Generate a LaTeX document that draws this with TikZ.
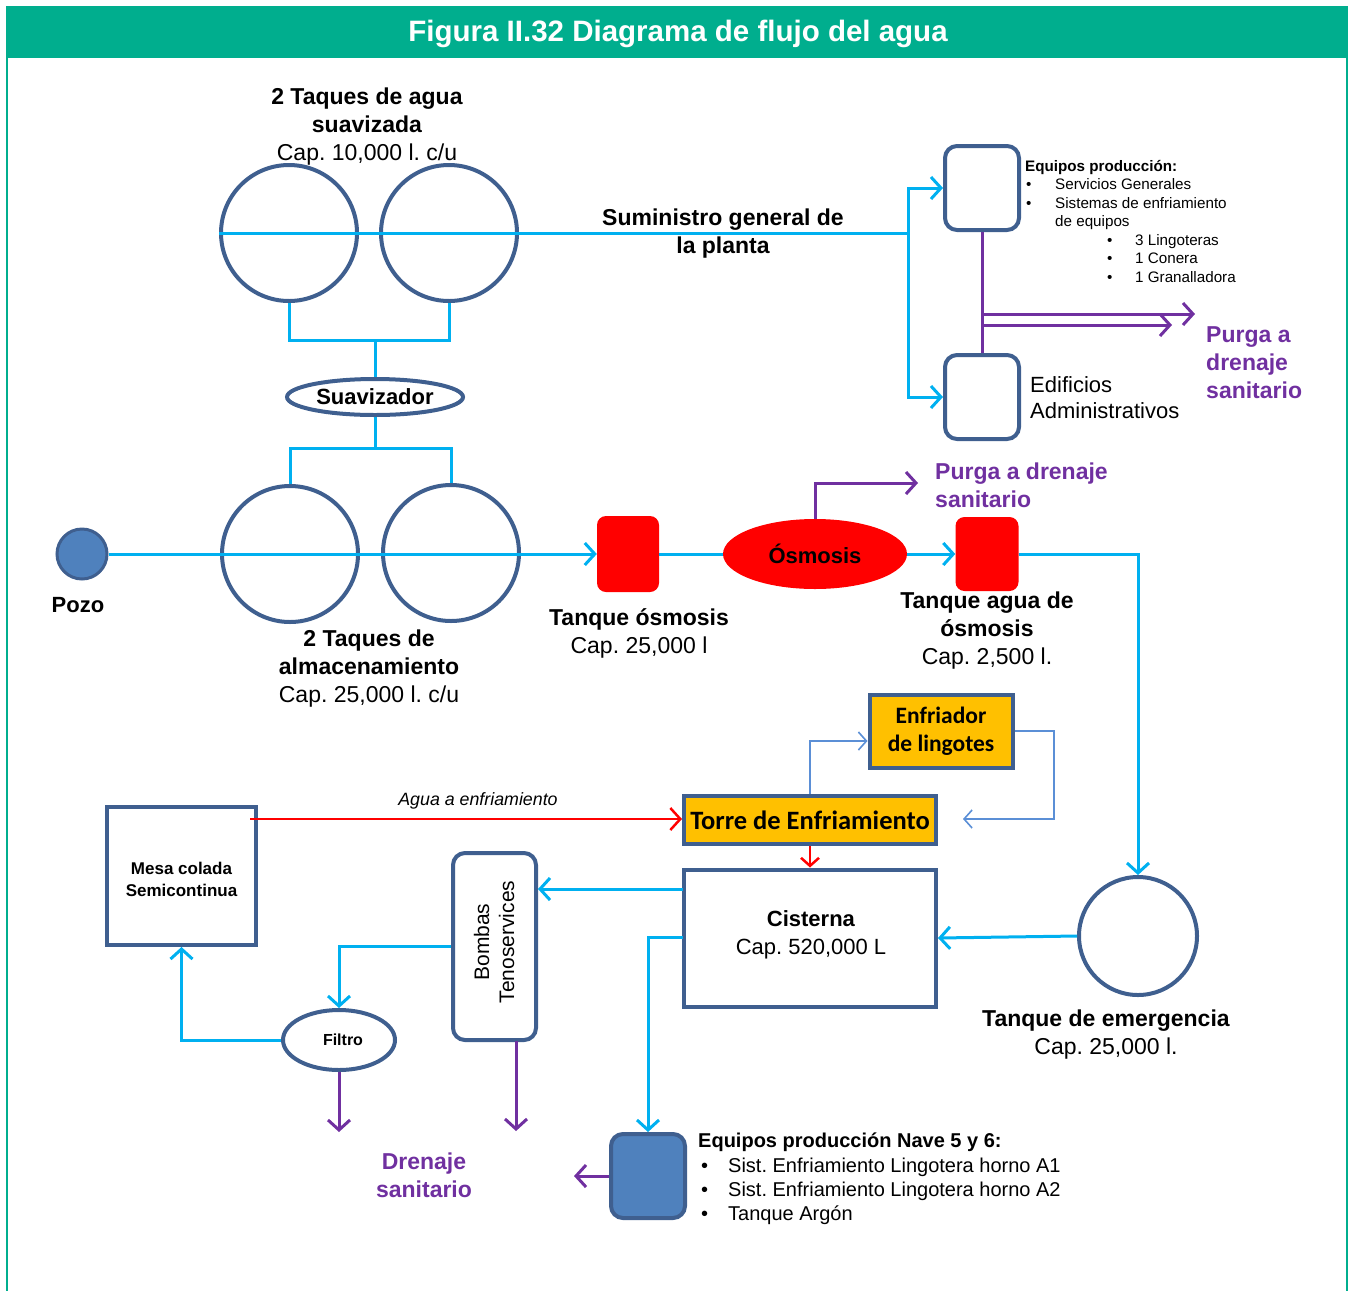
\documentclass[tikz,border=0pt]{standalone}
\usepackage{fontspec}
\setmainfont{Liberation Sans}
\newfontfamily\calfont{Carlito}
\usetikzlibrary{arrows.meta,shapes.geometric,calc}
\definecolor{hdr}{HTML}{00AE8E}
\definecolor{cyanp}{HTML}{00B0F0}
\definecolor{dblue}{HTML}{3F5F8F}
\definecolor{fblue}{HTML}{4F81BD}
\definecolor{purp}{HTML}{7030A0}
\definecolor{orng}{HTML}{FFC000}
\definecolor{steel}{HTML}{5B8FD6}
\begin{document}
\frenchspacing
\begin{tikzpicture}[x=1pt,y=-1pt,
  pipe/.style={draw=cyanp, line width=3pt},
  purl/.style={draw=purp, line width=3pt},
  redl/.style={draw=red, line width=2.5pt},
  thinl/.style={draw=steel, line width=1.6pt},
  arr/.style={-{Straight Barb[length=10pt,width=22pt]}},
  arrs/.style={-{Straight Barb[length=8pt,width=18pt]}},
  tank/.style={circle, draw=dblue, line width=4pt, minimum size=136pt, inner sep=0pt},
  rbox/.style={draw=dblue, line width=4pt, rounded corners=12pt, fill=white, inner sep=0pt},
  sbox/.style={draw=dblue, line width=4pt, fill=white, inner sep=0pt},
  obox/.style={draw=dblue, line width=4pt, fill=orng, inner sep=0pt, align=center},
  redbox/.style={fill=red, rounded corners=9pt, inner sep=0pt},
  big/.style={font=\fontsize{23}{28}\selectfont, align=center, inner sep=0pt},
  bigb/.style={font=\fontsize{23}{28}\selectfont\bfseries, align=center, inner sep=0pt},
  purpt/.style={font=\fontsize{23}{28}\selectfont\bfseries, text=purp, align=left, inner sep=0pt}
]
\useasboundingbox (0,0) rectangle (1349,1291);
% frame
\node[fill=hdr, minimum width=1342pt, minimum height=52pt, anchor=north west, inner sep=0pt] (hdrbox) at (6,6) {};
\node[text=white, font=\fontsize{29.5}{32}\selectfont\bfseries, inner sep=0pt] (title) at (678,34) {Figura II.32 Diagrama de flujo del agua};
\draw[draw=hdr, line width=1.5pt] (7,58) -- (7,1291) (1347,58) -- (1347,1291);

% tanks top
\node[tank] (s1) at (289,233) {};
\node[tank] (s2) at (449,233) {};
\node[draw=dblue, line width=4pt, ellipse, minimum width=176pt, minimum height=36pt, inner sep=0pt, font=\fontsize{22}{26}\selectfont\bfseries] (suav) at (375,397) {Suavizador};
\node[tank] (a1) at (290,554) {};
\node[tank] (a2) at (451,553) {};
\node[circle, fill=fblue, draw=dblue, line width=3pt, minimum size=50pt, inner sep=0pt] (pozo) at (82,554) {};
\node[redbox, minimum width=62pt, minimum height=76pt] (tos) at (628,554) {};
\node[ellipse, fill=red, minimum width=184pt, minimum height=70pt, inner sep=0pt, font=\fontsize{22}{26}\selectfont\bfseries] (osm) at (815,554) {Ósmosis};
\node[redbox, minimum width=63pt, minimum height=74pt] (tao) at (987,554) {};
\node[rbox, minimum width=74pt, minimum height=84pt] (eq1) at (982,188) {};
\node[rbox, minimum width=74pt, minimum height=84pt] (edif) at (982,397) {};

% lower nodes
\node[obox, minimum width=143pt, minimum height=73pt, font=\calfont\fontsize{23.5}{28}\selectfont\bfseries] (enf) at (941,731) {Enfriador\\de lingotes};
\node[obox, minimum width=252pt, minimum height=48pt, font=\calfont\fontsize{26.5}{28}\selectfont\bfseries] (torre) at (810,820) {Torre de Enfriamiento};
\node[sbox, minimum width=252pt, minimum height=137pt] (cist) at (810,938) {};
\node[font=\fontsize{22}{28}\selectfont, align=center, inner sep=0pt] (cistt) at (811,935) {\textbf{Cisterna}\\Cap. 520,000 L};
\node[circle, draw=dblue, line width=4pt, minimum size=118pt, inner sep=0pt] (emer) at (1138,936) {};
\node[sbox, minimum width=149pt, minimum height=138pt] (mesa) at (181.5,876) {};
\node[font=\fontsize{17}{22}\selectfont\bfseries, align=center, inner sep=0pt] (mesat) at (181.5,879) {Mesa colada\\Semicontinua};
\node[rbox, minimum width=83pt, minimum height=187pt] (bomb) at (494.5,946.5) {};
\node[rotate=90, font=\fontsize{21}{25}\selectfont, align=center, inner sep=0pt] (bombt) at (494,942) {Bombas\\Tenoservices};
\node[ellipse, draw=dblue, line width=4pt, minimum width=112pt, minimum height=60pt, inner sep=0pt, font=\fontsize{16}{20}\selectfont\bfseries] (filt) at (339,1040) {\hspace*{8pt}Filtro};
\node[fill=fblue, draw=dblue, line width=4pt, rounded corners=12pt, minimum width=74pt, minimum height=84pt, inner sep=0pt] (neq) at (648,1176) {};

% top connectors
\coordinate (j1) at (908,233);
\draw[pipe] (s1.west) -- (j1);
\draw[pipe,arr] (j1) |- (eq1.west);
\draw[pipe,arr] (j1) |- (edif.west);
\coordinate (c1) at (375,340);
\draw[pipe] (s1.south) |- (c1) -| (s2.south);
\draw[pipe] (c1) -- (suav.north);
\coordinate (c2) at (375,448);
\draw[pipe] (suav.south) -- (c2);
\draw[pipe] (a1.north) |- (c2) -| (a2.north);
\draw[pipe,arr] (pozo.east) -- (tos.west);
\draw[pipe] (tos.east) -- (osm.west);
\draw[pipe,arr] (osm.east) -- (tao.west);
\draw[pipe,arr] (tao.east) -| (emer.north);
\coordinate (p1) at (918,483);
\draw[purl,arr] (osm.north) |- (p1);
\draw[purl] (eq1.south) -- (edif.north);
\coordinate (pa) at (982,314);
\coordinate (pb) at (1195,314);
\coordinate (pc) at (982,325);
\coordinate (pd) at (1172,325);
\draw[purl,arr] (pa) -- (pb);
\draw[purl,arr] (pc) -- (pd);

% lower connectors
\draw[thinl,arrs] (torre.north) |- ($(enf.west)+(0,10)$);
\coordinate (e2) at (1054,819);
\coordinate (e3) at (963,819);
\draw[thinl,arrs] (enf.east) -| (e2) -- (e3);
\coordinate (m1) at (250,819);
\draw[redl,arr] (m1) -- (torre.west |- m1);
\draw[redl,arrs] (torre.south) -- (cist.north);
\draw[pipe,arr] (emer.west) -- (cist.east);
\coordinate (c3) at (683,889);
\draw[pipe,arr] (c3) -- (bomb.east |- c3);
\draw[pipe,arr] (bomb.west) -| (filt.north);
\draw[pipe,arr] (filt.west) -| (mesa.south);
\coordinate (f1) at (339,1132);
\draw[purl,arr] (filt.south) -- (f1);
\coordinate (b1) at (516,1041);
\coordinate (b2) at (516,1131);
\draw[purl,arr] (b1) -- (b2);
\coordinate (c4) at (683,937);
\draw[pipe,arr] (c4) -| (neq.north);
\coordinate (n1) at (574,1176);
\draw[purl,arr] (neq.west) -- (n1);

% labels
\node[big] (lt1) at (367,127) {\textbf{2 Taques de agua}\\\textbf{suavizada}\\Cap. 10,000 l. c/u};
\node[bigb] (lsum) at (723,234) {Suministro general de\\la planta};
\node[font=\fontsize{22}{26}\selectfont\bfseries, inner sep=0pt] (lpozo) at (78,605) {Pozo};
\node[big] (lalm) at (369,669) {\textbf{2 Taques de}\\\textbf{almacenamiento}\\Cap. 25,000 l. c/u};
\node[big] (ltos) at (639,633) {\textbf{Tanque ósmosis}\\Cap. 25,000 l};
\node[big] (ltao) at (987,631) {\textbf{Tanque agua de}\\\textbf{ósmosis}\\Cap. 2,500 l.};
\node[purpt, anchor=west] (lpur1) at (935,485) {Purga a drenaje\\sanitario};
\node[purpt, anchor=west] (lpur2) at (1206,363) {Purga a\\drenaje\\sanitario};
\node[font=\fontsize{15.2}{18.5}\selectfont, align=left, inner sep=0pt, anchor=north west] (leq) at (1025,160) {\textbf{Equipos producción:}\\
\hspace*{1pt}\makebox[29pt][l]{\textbullet}Servicios Generales\\
\hspace*{1pt}\makebox[29pt][l]{\textbullet}Sistemas de enfriamiento\\
\hspace*{30pt}de equipos\\
\hspace*{82pt}\makebox[28pt][l]{\textbullet}3 Lingoteras\\
\hspace*{82pt}\makebox[28pt][l]{\textbullet}1 Conera\\
\hspace*{82pt}\makebox[28pt][l]{\textbullet}1 Granalladora};
\node[font=\fontsize{22}{26}\selectfont, align=left, inner sep=0pt, anchor=west] (ledif) at (1030,398) {Edificios\\Administrativos};
\node[font=\fontsize{17.8}{20}\selectfont\itshape, inner sep=0pt] (lagua) at (478,801) {Agua a enfriamiento};
\node[big] (lemer) at (1106,1035) {\textbf{Tanque de emergencia}\\Cap. 25,000 l.};
\node[purpt, align=center] (ldren) at (424,1175) {Drenaje\\sanitario};
\node[font=\fontsize{20}{24.3}\selectfont, align=left, inner sep=0pt, anchor=west] (lnave) at (698,1179) {\textbf{Equipos producción Nave 5 y 6:}\\
\hspace*{3pt}\makebox[27pt][l]{\textbullet}Sist. Enfriamiento Lingotera horno A1\\
\hspace*{3pt}\makebox[27pt][l]{\textbullet}Sist. Enfriamiento Lingotera horno A2\\
\hspace*{3pt}\makebox[27pt][l]{\textbullet}Tanque Argón};
\end{tikzpicture}
\end{document}
